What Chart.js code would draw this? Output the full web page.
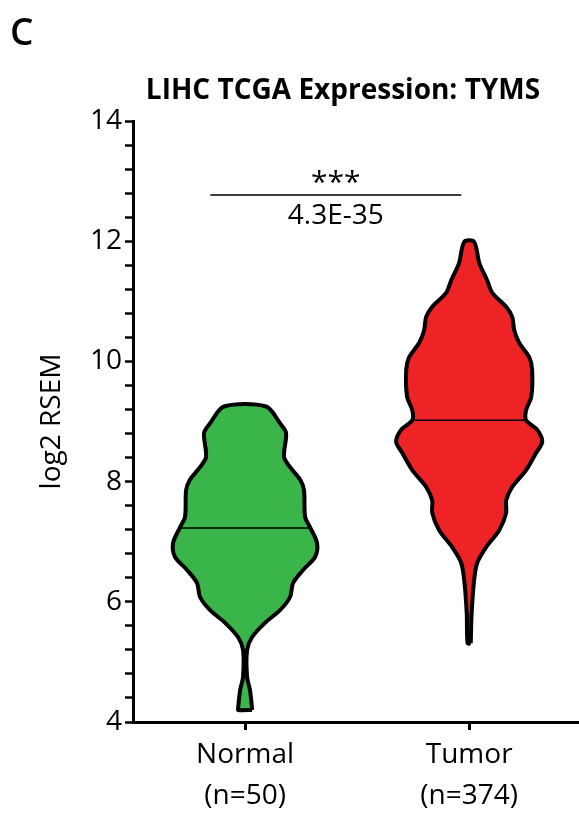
<!DOCTYPE html>
<html>
<head>
<meta charset="utf-8">
<script src="https://cdn.jsdelivr.net/npm/chart.js@4.4.0/dist/chart.umd.min.js"></script>
<style>
  html, body { margin: 0; padding: 0; background: #fff; }
  #wrap { width: 579px; height: 817px; }
</style>
</head>
<body>
<div id="wrap"><canvas id="myChart" width="579" height="817"></canvas></div>
<script>
// groups on the x axis
const groups = ['Normal', 'Tumor'];
const group_n = ['(n=50)', '(n=374)'];
const group_colors = ['#3AB54A', '#EE2326'];
const medians = [7.23, 9.02];

// violin outlines: log2 RSEM level and half width (in group units)
const normal_level = [4.20, 4.23, 4.53, 4.75, 5.20, 5.41, 5.65, 5.86, 6.08, 6.31, 6.53, 6.75, 6.98, 7.24, 7.41, 7.86, 8.03, 8.24, 8.41, 8.81, 8.97, 9.25];
const normal_width = [0.031, 0.031, 0.022, 0.009, 0.009, 0.031, 0.089, 0.156, 0.201, 0.214, 0.259, 0.313, 0.321, 0.290, 0.268, 0.263, 0.246, 0.201, 0.174, 0.183, 0.156, 0.094];
const tumor_level = [5.31, 5.81, 6.36, 6.65, 6.91, 7.19, 7.48, 7.69, 7.91, 8.19, 8.48, 8.66, 8.86, 9.02, 9.19, 9.41, 9.86, 10.07, 10.31, 10.52, 10.74, 10.91, 11.14, 11.35, 11.64, 11.99];
const tumor_width = [0.007, 0.011, 0.022, 0.036, 0.076, 0.134, 0.165, 0.165, 0.192, 0.254, 0.299, 0.326, 0.304, 0.254, 0.254, 0.277, 0.281, 0.268, 0.223, 0.201, 0.192, 0.165, 0.103, 0.080, 0.045, 0.022];

// significance bar
const sig_x = [0.845, 1.965];
const sig_y = 12.77;
const sig_stars = '***';
const sig_p = '4.3E-35';

// y axis ticks
const y_major = [4, 6, 8, 10, 12, 14];
const y_minor_step = 0.4;

const FONT = "'Open Sans', 'DejaVu Sans', sans-serif";

function outline(center, level, width) {
    let pts = [];
    for (let i = 0; i < level.length; i++) {
        pts.push({x: center + width[i], y: level[i]});
    }
    for (let i = level.length - 1; i >= 0; i--) {
        pts.push({x: center - width[i], y: level[i]});
    }
    pts.push(pts[0]);
    return pts;
}

function widthAt(level, width, v) {
    for (let i = 0; i < level.length - 1; i++) {
        if (v >= level[i] && v <= level[i + 1]) {
            const t = (v - level[i]) / (level[i + 1] - level[i]);
            return width[i] + t * (width[i + 1] - width[i]);
        }
    }
    return 0;
}

const levels = [normal_level, tumor_level];
const widths = [normal_width, tumor_width];

let datasets = [];

// median lines (drawn on top)
for (let g = 0; g < groups.length; g++) {
    const hw = widthAt(levels[g], widths[g], medians[g]);
    datasets.push({
        data: [{x: g + 1 - hw, y: medians[g]}, {x: g + 1 + hw, y: medians[g]}],
        borderColor: '#000',
        borderWidth: 1.5,
        pointRadius: 0,
        fill: false,
        tension: 0
    });
}

// significance line
datasets.push({
    data: [{x: sig_x[0], y: sig_y}, {x: sig_x[1], y: sig_y}],
    borderColor: '#000',
    borderWidth: 1.5,
    pointRadius: 0,
    fill: false,
    tension: 0
});

// violins
for (let g = 0; g < groups.length; g++) {
    datasets.push({
        data: outline(g + 1, levels[g], widths[g]),
        borderColor: '#000',
        borderWidth: 4,
        backgroundColor: group_colors[g],
        pointRadius: 0,
        fill: 'shape',
        tension: 0.3,
        borderJoinStyle: 'round'
    });
}

const textPlugin = {
    id: 'texts',
    afterDraw(chart) {
        const ctx = chart.ctx;
        const xs = chart.scales.x;
        const ys = chart.scales.y;
        ctx.save();
        ctx.fillStyle = '#000';

        ctx.font = '600 37px ' + FONT;
        ctx.textAlign = 'left';
        ctx.textBaseline = 'alphabetic';
        ctx.fillText('C', 10, 45);

        ctx.font = 'bold 28px ' + FONT;
        ctx.textAlign = 'center';
        ctx.fillText('LIHC TCGA Expression: TYMS', 343, 99);

        const cx = (xs.getPixelForValue(sig_x[0]) + xs.getPixelForValue(sig_x[1])) / 2;
        const ly = ys.getPixelForValue(sig_y);
        ctx.font = '30px ' + FONT;
        ctx.textBaseline = 'alphabetic';
        ctx.fillText(sig_stars, cx, ly - 3);
        ctx.font = '28px ' + FONT;
        ctx.textBaseline = 'top';
        ctx.fillText(sig_p, cx, ly + 7);
        ctx.restore();
    }
};

const ctx = document.getElementById('myChart').getContext('2d');
const myChart = new Chart(ctx, {
    type: 'line',
    data: { datasets: datasets },
    options: {
        responsive: false,
        animation: false,
        events: [],
        layout: { padding: { top: 121, left: 0, right: 0, bottom: 0 } },
        plugins: {
            legend: { display: false },
            tooltip: { enabled: false }
        },
        scales: {
            x: {
                type: 'linear',
                min: 0.5,
                max: 2.49,
                afterBuildTicks: function (scale) {
                    scale.ticks = groups.map((g, i) => ({value: i + 1}));
                },
                afterFit: function (scale) {
                    scale.height = 95;
                },
                ticks: {
                    autoSkip: false,
                    maxRotation: 0,
                    color: '#000',
                    padding: 5,
                    font: { family: FONT, size: 28, lineHeight: 1.45 },
                    callback: function (v) {
                        return [groups[v - 1], group_n[v - 1]];
                    }
                },
                grid: { drawOnChartArea: false, tickLength: 8, tickWidth: 3, tickColor: '#000' },
                border: { color: '#000', width: 3 }
            },
            y: {
                type: 'linear',
                min: 4,
                max: 14,
                afterBuildTicks: function (scale) {
                    let t = [];
                    for (let v = 4; v <= 14 + 1e-9; v += y_minor_step) {
                        t.push({value: Math.round(v * 10) / 10});
                    }
                    scale.ticks = t;
                },
                afterFit: function (scale) {
                    scale.width = 133;
                },
                ticks: {
                    autoSkip: false,
                    color: '#000',
                    padding: 3,
                    font: { family: FONT, size: 28 },
                    callback: function (v) {
                        return y_major.includes(v) ? String(v) : '';
                    }
                },
                grid: { drawOnChartArea: false, tickLength: 8, tickWidth: 2.5, tickColor: '#000' },
                border: { color: '#000', width: 3 },
                title: {
                    display: true,
                    text: 'log2 RSEM',
                    color: '#000',
                    font: { family: FONT, size: 28 },
                    padding: { top: 35, bottom: 0 }
                }
            }
        }
    },
    plugins: [textPlugin]
});
</script>
</body>
</html>
